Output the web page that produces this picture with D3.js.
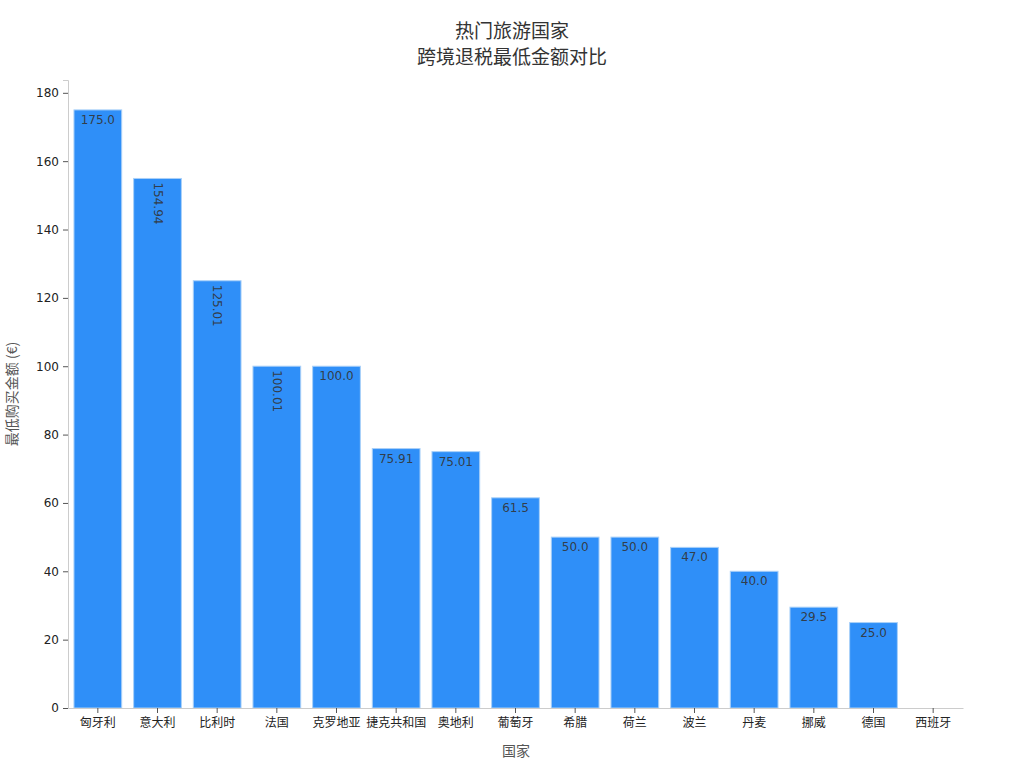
<!DOCTYPE html>
<html><head><meta charset="utf-8">
<script src="https://cdn.jsdelivr.net/npm/d3@7"></script>
<style>body{margin:0;background:#fff;} svg{display:block;font-family:"DejaVu Sans","Noto Sans CJK SC",sans-serif;}</style>
</head><body>
<svg id="c" width="1024" height="768"></svg>
<script>
const countries = ["匈牙利","意大利","比利时","法国","克罗地亚","捷克共和国","奥地利","葡萄牙","希腊","荷兰","波兰","丹麦","挪威","德国","西班牙"];
const minAmount = [175.0,154.94,125.01,100.01,100.0,75.91,75.01,61.5,50.0,50.0,47.0,40.0,29.5,25.0,0];
const labels = ["175.0","154.94","125.01","100.01","100.0","75.91","75.01","61.5","50.0","50.0","47.0","40.0","29.5","25.0",""];
const yTicks = [0,20,40,60,80,100,120,140,160,180];
const titleLines = ["热门旅游国家","跨境退税最低金额对比"];

const svg = d3.select("#c");
const L=68,R=963,T=80,B=708;
const x = d3.scaleBand().domain(countries).range([L,R]).paddingInner(0.2).paddingOuter(0.1);
const y = d3.scaleLinear().domain([0, d3.max(minAmount)*1.05]).range([B,T]);

// title (two separate lines)
svg.append("g").selectAll("text").data(titleLines).join("text")
  .attr("x",512).attr("y",(d,i)=>38+i*26).attr("text-anchor","middle")
  .attr("fill","#333").style("font-size","19px").style("font-family","'Noto Sans CJK SC',sans-serif")
  .text(d=>d);

// bars
svg.append("g").selectAll("rect").data(minAmount).join("rect")
  .attr("x",(d,i)=>x(countries[i])).attr("y",d=>y(d)).attr("width",x.bandwidth())
  .attr("height",d=>B-y(d)).attr("fill",d=>d>0?"#2f8ff8":"none").attr("stroke",d=>d>0?"#a9d0f8":"none").attr("stroke-width",1);

// axes
const ya = svg.append("g").attr("transform",`translate(${L},0)`).call(d3.axisLeft(y).tickValues(yTicks).tickSize(5).tickPadding(4).tickFormat(d3.format("d")));
ya.select(".domain").attr("stroke","#cccccc");
ya.selectAll(".tick line").attr("stroke","#555");
ya.selectAll(".tick text").attr("fill","#222").style("font-size","12px").style("font-family","'DejaVu Sans',sans-serif");
const xa = svg.append("g").attr("transform",`translate(0,${B})`).call(d3.axisBottom(x).tickSize(5).tickPadding(5).tickSizeOuter(0));
xa.select(".domain").attr("stroke","#cccccc");
xa.selectAll(".tick line").attr("stroke","#555");
xa.selectAll(".tick text").attr("fill","#222").style("font-size","12px").style("font-family","'Noto Sans CJK SC',sans-serif");

// value labels
const lg = svg.append("g").style("font-size","12px").attr("fill","#333").attr("fill-opacity",0.9);
labels.forEach((t,i)=>{
  if(!t) return;
  const cx = x(countries[i])+x.bandwidth()/2, top=y(minAmount[i]);
  if(t.length>=6){
    lg.append("text").attr("transform",`translate(${cx-4},${top+4}) rotate(90)`).attr("text-anchor","start").text(t);
  } else {
    lg.append("text").attr("x",cx).attr("y",top+14).attr("text-anchor","middle").text(t);
  }
});

// axis titles
svg.append("text").attr("transform","translate(17,394) rotate(-90)").attr("text-anchor","middle")
  .attr("fill","#555").style("font-size","14px").style("font-family","'Noto Sans CJK SC',sans-serif").text("最低购买金额 (€)");
svg.append("text").attr("x",516).attr("y",756).attr("text-anchor","middle")
  .attr("fill","#555").style("font-size","14px").style("font-family","'Noto Sans CJK SC',sans-serif").text("国家");
</script>
</body></html>
